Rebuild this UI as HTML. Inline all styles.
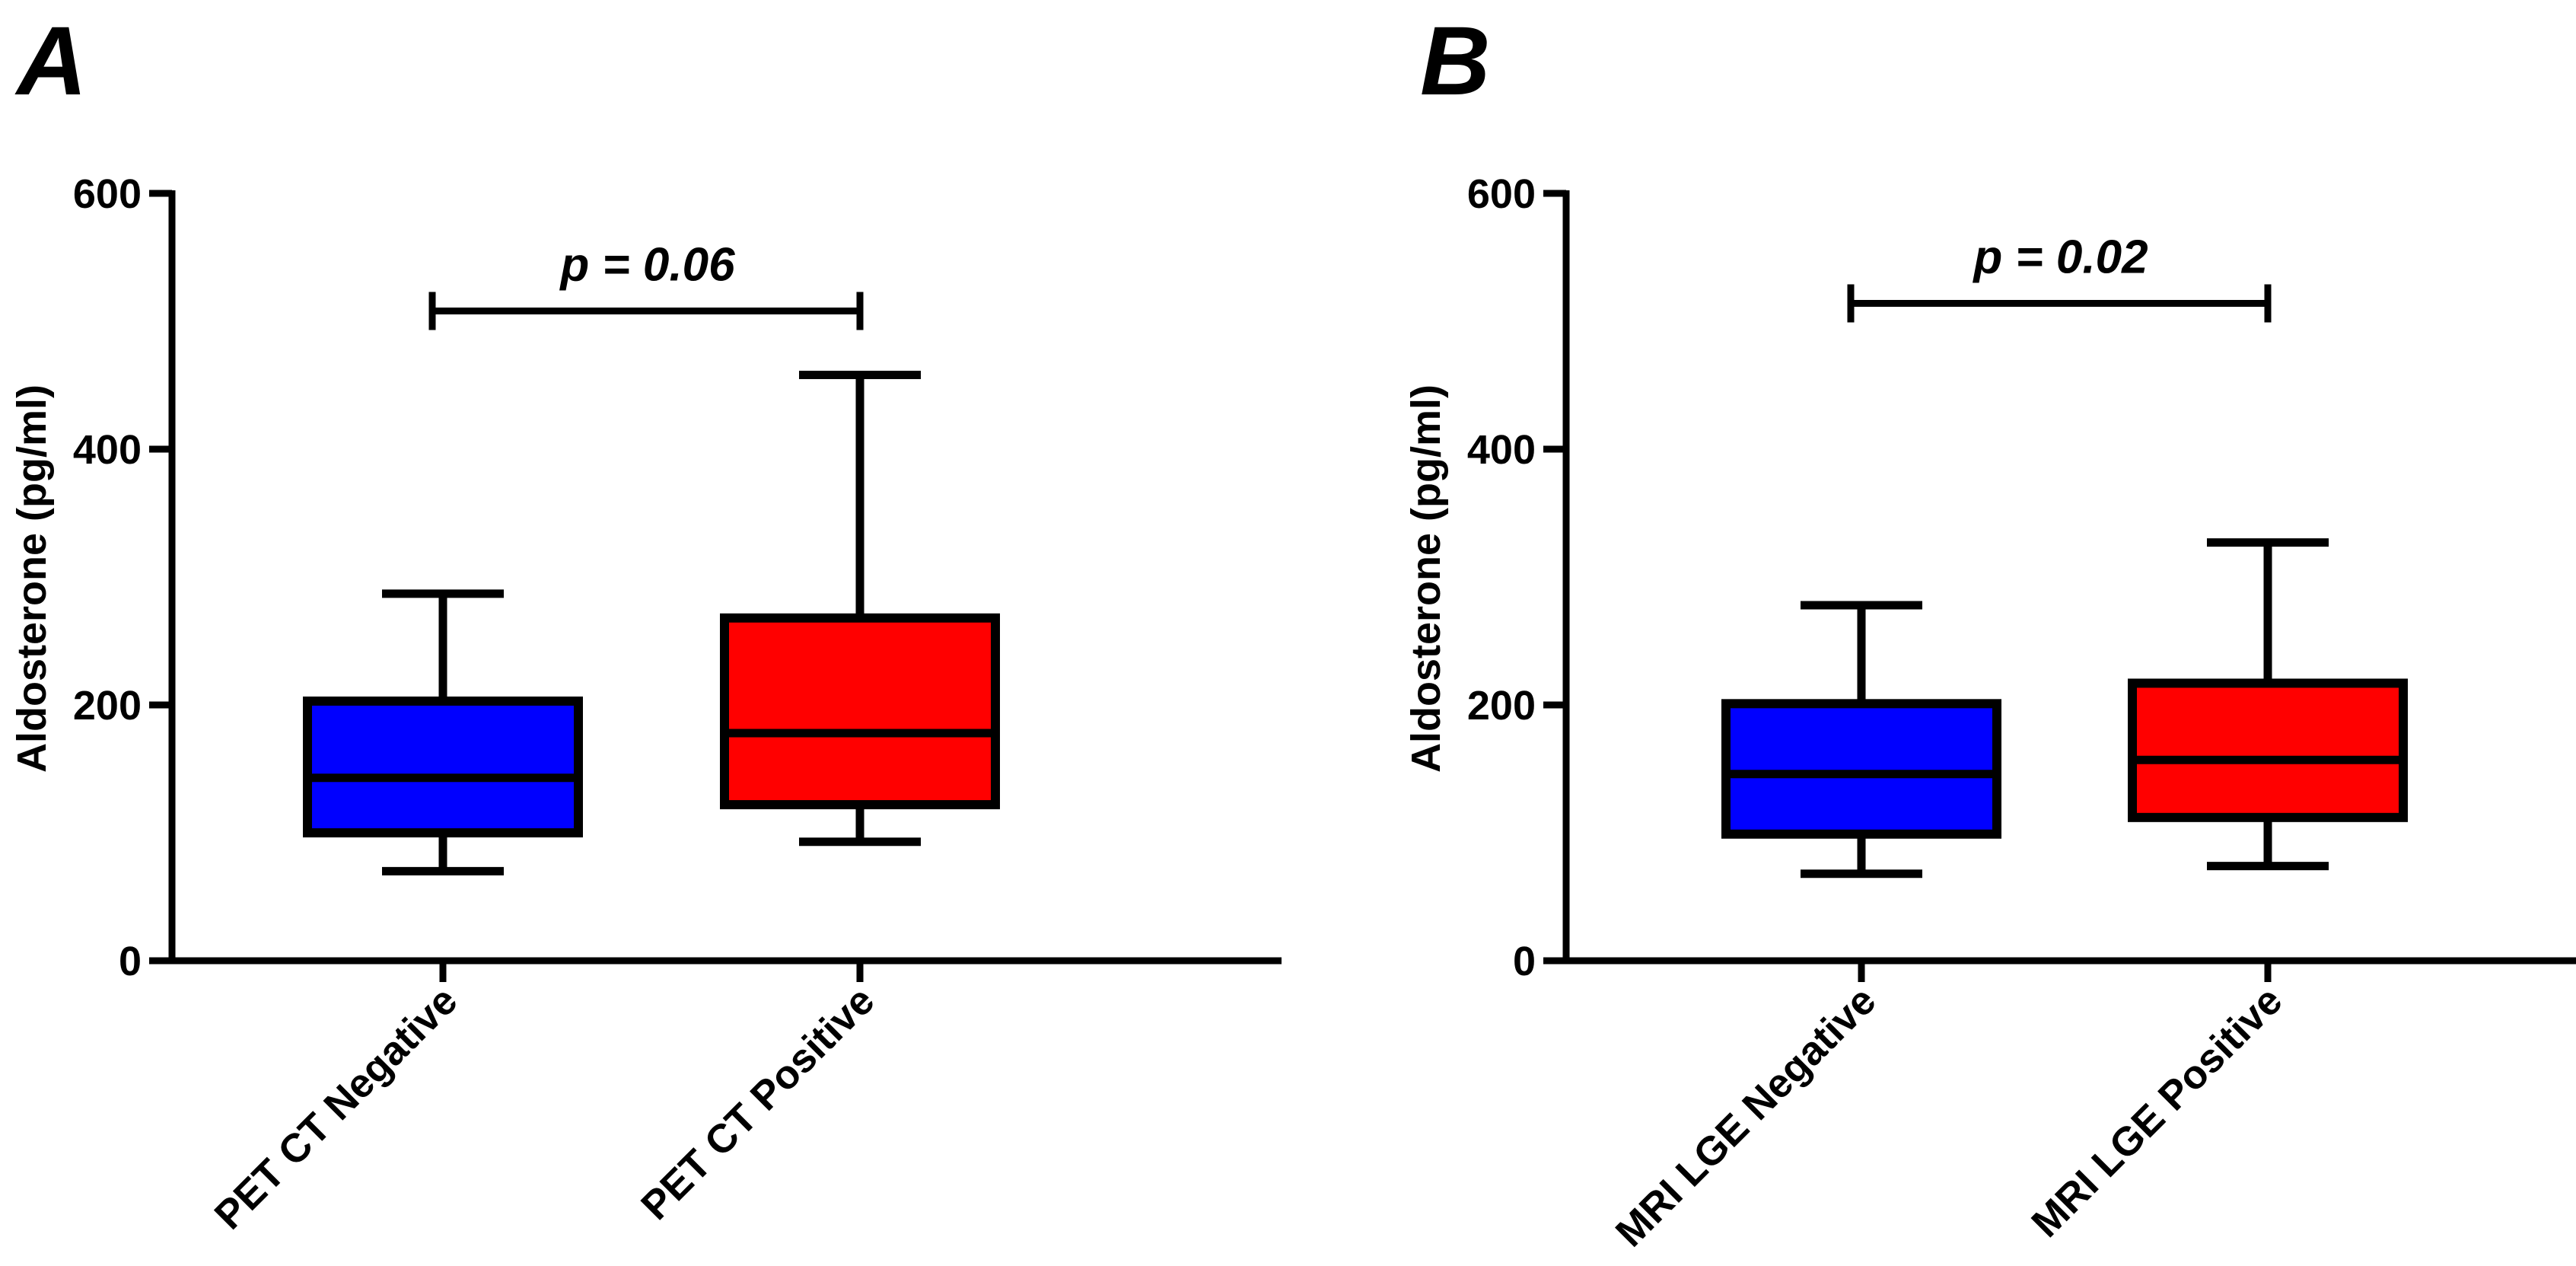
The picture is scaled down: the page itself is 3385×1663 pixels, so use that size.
<!DOCTYPE html>
<html><head><meta charset="utf-8"><style>
html,body{margin:0;padding:0;background:#fff;}
svg{display:block;font-family:"Liberation Sans",Arial,sans-serif;font-weight:bold;}
</style></head><body>
<svg id="chart" width="3385" height="1663" viewBox="0 0 3385 1663" xmlns="http://www.w3.org/2000/svg"></svg>
<script>
const panelLetters = ["A", "B"];
const catsA = ["PET CT Negative", "PET CT Positive"];
const catsB = ["MRI LGE Negative", "MRI LGE Positive"];
const minA = [70, 93];
const q1A = [100, 122];
const medA = [143, 178];
const q3A = [203, 268];
const maxA = [287, 458];
const minB = [68, 74];
const q1B = [99, 112];
const medB = [146, 157];
const q3B = [201, 217];
const maxB = [278, 327];
const yTicks = [0, 200, 400, 600];
const pLabels = ["p = 0.06", "p = 0.02"];
const bracketValues = [508, 514];
const colors = ["#0000ff", "#ff0000"];

const NS = "http://www.w3.org/2000/svg";
const svg = document.getElementById("chart");
function mk(tag, attrs, parent) {
  const e = document.createElementNS(NS, tag);
  for (const k in attrs) e.setAttribute(k, attrs[k]);
  (parent || svg).appendChild(e);
  return e;
}
const Y0 = 1262, PX = 1.68;
function yS(v) { return Y0 - v * PX; }

const panels = [
  {axisX: 226, xEnd: 1684, c0: 582, gap: 548, cats: catsA, mn: minA, q1: q1A, md: medA, q3: q3A, mx: maxA, letterX: 22},
  {axisX: 2058, xEnd: 3385, c0: 2446, gap: 534, cats: catsB, mn: minB, q1: q1B, md: medB, q3: q3B, mx: maxB, letterX: 1866}
];

panels.forEach((p, pi) => {
  const g = mk("g", {});
  
  
  function xS(i) { return p.c0 + i * p.gap; }

  const letter = mk("text", {x: p.letterX, y: 124, "font-size": 128, "font-style": "italic", fill: "#000"}, g);
  letter.textContent = panelLetters[pi];
  
  

  const yAxis = mk("line", {x1: p.axisX, y1: yS(600) - 4, x2: p.axisX, y2: Y0 + 4.5, stroke: "#000", "stroke-width": 9}, g);
  
  
  const xAxis = mk("line", {x1: p.axisX - 30, y1: Y0, x2: p.xEnd, y2: Y0, stroke: "#000", "stroke-width": 9}, g);
  
  

  yTicks.forEach(t => {
    const tk = mk("line", {x1: p.axisX - 30, y1: yS(t), x2: p.axisX, y2: yS(t), stroke: "#000", "stroke-width": 9}, g);
    
    
    const tl = mk("text", {x: p.axisX - 40, y: yS(t) + 19, "font-size": 54, "text-anchor": "end", fill: "#000"}, g);
    tl.textContent = t;
    
    
  });

  const yt = mk("text", {x: 0, y: 0, "font-size": 54, "text-anchor": "middle", fill: "#000", transform: `translate(${p.axisX - 166},760) rotate(-90)`}, g);
  yt.textContent = "Aldosterone (pg/ml)";
  
  

  p.cats.forEach((c, i) => {
    const cx = xS(i);
    const tk = mk("line", {x1: cx, y1: Y0, x2: cx, y2: Y0 + 28, stroke: "#000", "stroke-width": 9}, g);
    
    
    const lab = mk("text", {x: 0, y: 0, "font-size": 53, "text-anchor": "end", fill: "#000", transform: `translate(${cx + 22},1318) rotate(-45)`}, g);
    lab.textContent = c;
    
    

    const bg = mk("g", {}, g);
    
    
    const hw = 178, cw = 80;
    mk("line", {x1: cx, y1: yS(p.mx[i]), x2: cx, y2: yS(p.q3[i]), stroke: "#000", "stroke-width": 11}, bg);
    mk("line", {x1: cx, y1: yS(p.q1[i]), x2: cx, y2: yS(p.mn[i]), stroke: "#000", "stroke-width": 11}, bg);
    mk("line", {x1: cx - cw, y1: yS(p.mx[i]), x2: cx + cw, y2: yS(p.mx[i]), stroke: "#000", "stroke-width": 11}, bg);
    mk("line", {x1: cx - cw, y1: yS(p.mn[i]), x2: cx + cw, y2: yS(p.mn[i]), stroke: "#000", "stroke-width": 11}, bg);
    mk("rect", {x: cx - hw, y: yS(p.q3[i]), width: 2 * hw, height: yS(p.q1[i]) - yS(p.q3[i]), fill: colors[i], stroke: "#000", "stroke-width": 12}, bg);
    mk("line", {x1: cx - hw, y1: yS(p.md[i]), x2: cx + hw, y2: yS(p.md[i]), stroke: "#000", "stroke-width": 11}, bg);
  });

  const br = mk("g", {}, g);
  
  
  const by = yS(bracketValues[pi]);
  const bx1 = xS(0) - 14, bx2 = xS(1);
  mk("line", {x1: bx1, y1: by, x2: bx2, y2: by, stroke: "#000", "stroke-width": 9}, br);
  mk("line", {x1: bx1, y1: by - 25, x2: bx1, y2: by + 25, stroke: "#000", "stroke-width": 9}, br);
  mk("line", {x1: bx2, y1: by - 25, x2: bx2, y2: by + 25, stroke: "#000", "stroke-width": 9}, br);
  const pt = mk("text", {x: (bx1 + bx2) / 2 + 2, y: by - 40, "font-size": 62, "font-style": "italic", "text-anchor": "middle", fill: "#000"}, g);
  pt.textContent = pLabels[pi];
  
  
});
</script>
</body></html>
